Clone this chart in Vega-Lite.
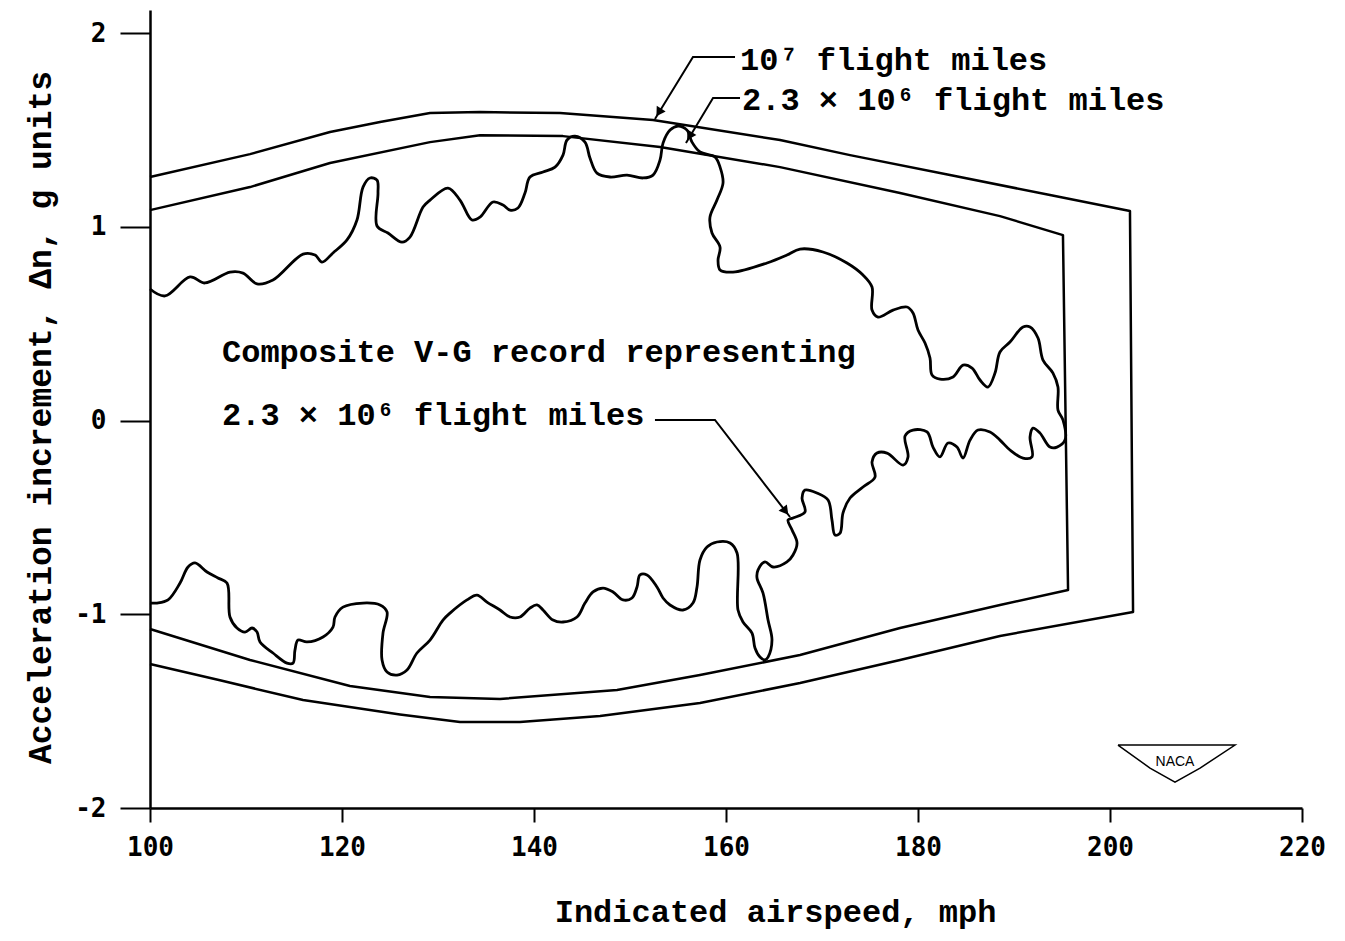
{
  "$schema": "https://vega.github.io/schema/vega-lite/v6.json",
  "width": 1152,
  "height": 798,
  "autosize": {"type": "none"},
  "padding": {"left": 150, "top": 10, "right": 43, "bottom": 133},
  "background": "white",
  "config": {"view": {"stroke": null}},
  "datasets": {
    "envelopes": [
      {"curve": "outer", "i": 1, "speed": 100, "g": 1.257},
      {"curve": "outer", "i": 2, "speed": 110.42, "g": 1.375},
      {"curve": "outer", "i": 3, "speed": 118.75, "g": 1.489},
      {"curve": "outer", "i": 4, "speed": 123.96, "g": 1.541},
      {"curve": "outer", "i": 5, "speed": 129.17, "g": 1.587},
      {"curve": "outer", "i": 6, "speed": 134.38, "g": 1.592},
      {"curve": "outer", "i": 7, "speed": 142.71, "g": 1.587},
      {"curve": "outer", "i": 8, "speed": 152.4, "g": 1.551},
      {"curve": "outer", "i": 9, "speed": 165.63, "g": 1.448},
      {"curve": "outer", "i": 10, "speed": 172.92, "g": 1.37},
      {"curve": "outer", "i": 11, "speed": 183.33, "g": 1.267},
      {"curve": "outer", "i": 12, "speed": 193.75, "g": 1.164},
      {"curve": "outer", "i": 13, "speed": 202.08, "g": 1.081},
      {"curve": "outer", "i": 14, "speed": 202.4, "g": -0.988},
      {"curve": "outer", "i": 15, "speed": 188.54, "g": -1.112},
      {"curve": "outer", "i": 16, "speed": 178.13, "g": -1.236},
      {"curve": "outer", "i": 17, "speed": 167.71, "g": -1.355},
      {"curve": "outer", "i": 18, "speed": 157.29, "g": -1.458},
      {"curve": "outer", "i": 19, "speed": 146.88, "g": -1.525},
      {"curve": "outer", "i": 20, "speed": 138.54, "g": -1.556},
      {"curve": "outer", "i": 21, "speed": 132.29, "g": -1.556},
      {"curve": "outer", "i": 22, "speed": 126.04, "g": -1.517},
      {"curve": "outer", "i": 23, "speed": 115.94, "g": -1.443},
      {"curve": "outer", "i": 24, "speed": 107.29, "g": -1.341},
      {"curve": "outer", "i": 25, "speed": 100, "g": -1.257},
      {"curve": "inner", "i": 1, "speed": 100, "g": 1.086},
      {"curve": "inner", "i": 2, "speed": 110.42, "g": 1.205},
      {"curve": "inner", "i": 3, "speed": 118.75, "g": 1.329},
      {"curve": "inner", "i": 4, "speed": 129.17, "g": 1.437},
      {"curve": "inner", "i": 5, "speed": 134.38, "g": 1.473},
      {"curve": "inner", "i": 6, "speed": 143.02, "g": 1.468},
      {"curve": "inner", "i": 7, "speed": 153.13, "g": 1.412},
      {"curve": "inner", "i": 8, "speed": 165.63, "g": 1.308},
      {"curve": "inner", "i": 9, "speed": 178.13, "g": 1.174},
      {"curve": "inner", "i": 10, "speed": 188.54, "g": 1.055},
      {"curve": "inner", "i": 11, "speed": 195.1, "g": 0.957},
      {"curve": "inner", "i": 12, "speed": 195.63, "g": -0.875},
      {"curve": "inner", "i": 13, "speed": 188.54, "g": -0.952},
      {"curve": "inner", "i": 14, "speed": 178.13, "g": -1.071},
      {"curve": "inner", "i": 15, "speed": 167.71, "g": -1.21},
      {"curve": "inner", "i": 16, "speed": 157.29, "g": -1.314},
      {"curve": "inner", "i": 17, "speed": 148.65, "g": -1.391},
      {"curve": "inner", "i": 18, "speed": 136.46, "g": -1.437},
      {"curve": "inner", "i": 19, "speed": 129.17, "g": -1.427},
      {"curve": "inner", "i": 20, "speed": 120.83, "g": -1.37},
      {"curve": "inner", "i": 21, "speed": 110.42, "g": -1.236},
      {"curve": "inner", "i": 22, "speed": 100, "g": -1.076}
    ],
    "record": [
      {"i": 1, "speed": 100, "g": 0.679},
      {"i": 2, "speed": 101.56, "g": 0.643},
      {"i": 3, "speed": 104.17, "g": 0.741},
      {"i": 4, "speed": 105.73, "g": 0.71},
      {"i": 5, "speed": 108.33, "g": 0.766},
      {"i": 6, "speed": 109.69, "g": 0.761},
      {"i": 7, "speed": 111.15, "g": 0.705},
      {"i": 8, "speed": 112.81, "g": 0.725},
      {"i": 9, "speed": 115.94, "g": 0.859},
      {"i": 10, "speed": 117.19, "g": 0.854},
      {"i": 11, "speed": 117.92, "g": 0.818},
      {"i": 12, "speed": 119.06, "g": 0.865},
      {"i": 13, "speed": 120.52, "g": 0.932},
      {"i": 14, "speed": 121.56, "g": 1.035},
      {"i": 15, "speed": 122.19, "g": 1.205},
      {"i": 16, "speed": 122.92, "g": 1.252},
      {"i": 17, "speed": 123.65, "g": 1.241},
      {"i": 18, "speed": 123.75, "g": 1.174},
      {"i": 19, "speed": 123.65, "g": 1.004},
      {"i": 20, "speed": 124.79, "g": 0.968},
      {"i": 21, "speed": 126.25, "g": 0.921},
      {"i": 22, "speed": 127.08, "g": 0.947},
      {"i": 23, "speed": 128.44, "g": 1.102},
      {"i": 24, "speed": 129.17, "g": 1.138},
      {"i": 25, "speed": 131.04, "g": 1.2},
      {"i": 26, "speed": 132.29, "g": 1.138},
      {"i": 27, "speed": 133.54, "g": 1.035},
      {"i": 28, "speed": 134.38, "g": 1.05},
      {"i": 29, "speed": 135.73, "g": 1.128},
      {"i": 30, "speed": 136.77, "g": 1.112},
      {"i": 31, "speed": 137.5, "g": 1.086},
      {"i": 32, "speed": 138.33, "g": 1.097},
      {"i": 33, "speed": 139.06, "g": 1.174},
      {"i": 34, "speed": 139.58, "g": 1.257},
      {"i": 35, "speed": 140.94, "g": 1.283},
      {"i": 36, "speed": 142.19, "g": 1.308},
      {"i": 37, "speed": 143.02, "g": 1.37},
      {"i": 38, "speed": 143.44, "g": 1.448},
      {"i": 39, "speed": 144.27, "g": 1.468},
      {"i": 40, "speed": 145.31, "g": 1.437},
      {"i": 41, "speed": 145.83, "g": 1.355},
      {"i": 42, "speed": 146.56, "g": 1.277},
      {"i": 43, "speed": 147.92, "g": 1.257},
      {"i": 44, "speed": 149.69, "g": 1.267},
      {"i": 45, "speed": 151.35, "g": 1.252},
      {"i": 46, "speed": 152.4, "g": 1.267},
      {"i": 47, "speed": 153.13, "g": 1.345},
      {"i": 48, "speed": 153.44, "g": 1.432},
      {"i": 49, "speed": 154.17, "g": 1.499},
      {"i": 50, "speed": 155.0, "g": 1.52},
      {"i": 51, "speed": 155.94, "g": 1.499},
      {"i": 52, "speed": 156.46, "g": 1.437},
      {"i": 53, "speed": 157.29, "g": 1.386},
      {"i": 54, "speed": 158.85, "g": 1.36},
      {"i": 55, "speed": 159.38, "g": 1.308},
      {"i": 56, "speed": 159.69, "g": 1.226},
      {"i": 57, "speed": 159.06, "g": 1.138},
      {"i": 58, "speed": 158.33, "g": 1.05},
      {"i": 59, "speed": 158.54, "g": 0.968},
      {"i": 60, "speed": 159.38, "g": 0.895},
      {"i": 61, "speed": 159.17, "g": 0.828},
      {"i": 62, "speed": 159.38, "g": 0.777},
      {"i": 63, "speed": 160.73, "g": 0.766},
      {"i": 64, "speed": 164.27, "g": 0.813},
      {"i": 65, "speed": 166.35, "g": 0.854},
      {"i": 66, "speed": 167.71, "g": 0.885},
      {"i": 67, "speed": 170.1, "g": 0.87},
      {"i": 68, "speed": 172.6, "g": 0.813},
      {"i": 69, "speed": 174.27, "g": 0.751},
      {"i": 70, "speed": 175.21, "g": 0.689},
      {"i": 71, "speed": 175.21, "g": 0.57},
      {"i": 72, "speed": 175.83, "g": 0.534},
      {"i": 73, "speed": 177.4, "g": 0.57},
      {"i": 74, "speed": 178.85, "g": 0.586},
      {"i": 75, "speed": 179.48, "g": 0.555},
      {"i": 76, "speed": 180.0, "g": 0.467},
      {"i": 77, "speed": 180.73, "g": 0.4},
      {"i": 78, "speed": 181.25, "g": 0.323},
      {"i": 79, "speed": 181.46, "g": 0.235},
      {"i": 80, "speed": 182.29, "g": 0.214},
      {"i": 81, "speed": 183.65, "g": 0.225},
      {"i": 82, "speed": 184.69, "g": 0.286},
      {"i": 83, "speed": 185.63, "g": 0.271},
      {"i": 84, "speed": 186.46, "g": 0.209},
      {"i": 85, "speed": 187.29, "g": 0.173},
      {"i": 86, "speed": 188.02, "g": 0.245},
      {"i": 87, "speed": 188.54, "g": 0.354},
      {"i": 88, "speed": 189.58, "g": 0.405},
      {"i": 89, "speed": 190.94, "g": 0.483},
      {"i": 90, "speed": 191.67, "g": 0.483},
      {"i": 91, "speed": 192.5, "g": 0.426},
      {"i": 92, "speed": 193.02, "g": 0.312},
      {"i": 93, "speed": 194.06, "g": 0.245},
      {"i": 94, "speed": 194.58, "g": 0.173},
      {"i": 95, "speed": 194.58, "g": 0.054},
      {"i": 96, "speed": 195.1, "g": 0.003},
      {"i": 97, "speed": 195.31, "g": -0.101},
      {"i": 98, "speed": 194.48, "g": -0.137},
      {"i": 99, "speed": 193.75, "g": -0.137},
      {"i": 100, "speed": 192.71, "g": -0.065},
      {"i": 101, "speed": 191.98, "g": -0.039},
      {"i": 102, "speed": 191.67, "g": -0.085},
      {"i": 103, "speed": 191.88, "g": -0.188},
      {"i": 104, "speed": 190.94, "g": -0.194},
      {"i": 105, "speed": 189.58, "g": -0.152},
      {"i": 106, "speed": 188.54, "g": -0.101},
      {"i": 107, "speed": 187.5, "g": -0.059},
      {"i": 108, "speed": 186.25, "g": -0.049},
      {"i": 109, "speed": 185.42, "g": -0.101},
      {"i": 110, "speed": 184.69, "g": -0.194},
      {"i": 111, "speed": 184.06, "g": -0.137},
      {"i": 112, "speed": 183.13, "g": -0.116},
      {"i": 113, "speed": 182.29, "g": -0.188},
      {"i": 114, "speed": 181.56, "g": -0.137},
      {"i": 115, "speed": 180.94, "g": -0.059},
      {"i": 116, "speed": 179.48, "g": -0.049},
      {"i": 117, "speed": 178.65, "g": -0.08},
      {"i": 118, "speed": 178.96, "g": -0.188},
      {"i": 119, "speed": 178.44, "g": -0.23},
      {"i": 120, "speed": 176.77, "g": -0.168},
      {"i": 121, "speed": 175.73, "g": -0.168},
      {"i": 122, "speed": 175.21, "g": -0.214},
      {"i": 123, "speed": 175.52, "g": -0.292},
      {"i": 124, "speed": 174.27, "g": -0.343},
      {"i": 125, "speed": 172.92, "g": -0.4},
      {"i": 126, "speed": 172.19, "g": -0.477},
      {"i": 127, "speed": 171.88, "g": -0.581},
      {"i": 128, "speed": 171.35, "g": -0.591},
      {"i": 129, "speed": 171.04, "g": -0.514},
      {"i": 130, "speed": 170.63, "g": -0.41},
      {"i": 131, "speed": 169.48, "g": -0.374},
      {"i": 132, "speed": 168.23, "g": -0.359},
      {"i": 133, "speed": 167.92, "g": -0.4},
      {"i": 134, "speed": 168.23, "g": -0.472},
      {"i": 135, "speed": 166.98, "g": -0.503},
      {"i": 136, "speed": 166.46, "g": -0.514},
      {"i": 137, "speed": 166.88, "g": -0.565},
      {"i": 138, "speed": 167.4, "g": -0.632},
      {"i": 139, "speed": 166.98, "g": -0.694},
      {"i": 140, "speed": 166.35, "g": -0.73},
      {"i": 141, "speed": 164.9, "g": -0.756},
      {"i": 142, "speed": 164.06, "g": -0.73},
      {"i": 143, "speed": 163.33, "g": -0.772},
      {"i": 144, "speed": 163.23, "g": -0.813},
      {"i": 145, "speed": 163.85, "g": -0.89},
      {"i": 146, "speed": 164.38, "g": -1.03},
      {"i": 147, "speed": 164.79, "g": -1.133},
      {"i": 148, "speed": 164.38, "g": -1.221},
      {"i": 149, "speed": 164.06, "g": -1.236},
      {"i": 150, "speed": 163.54, "g": -1.221},
      {"i": 151, "speed": 163.02, "g": -1.174},
      {"i": 152, "speed": 162.71, "g": -1.097},
      {"i": 153, "speed": 161.77, "g": -1.04},
      {"i": 154, "speed": 161.25, "g": -0.978},
      {"i": 155, "speed": 161.15, "g": -0.684},
      {"i": 156, "speed": 160.42, "g": -0.632},
      {"i": 157, "speed": 159.06, "g": -0.627},
      {"i": 158, "speed": 158.02, "g": -0.653},
      {"i": 159, "speed": 157.29, "g": -0.72},
      {"i": 160, "speed": 156.98, "g": -0.859},
      {"i": 161, "speed": 156.56, "g": -0.942},
      {"i": 162, "speed": 155.52, "g": -0.978},
      {"i": 163, "speed": 154.17, "g": -0.952},
      {"i": 164, "speed": 153.44, "g": -0.916},
      {"i": 165, "speed": 152.81, "g": -0.859},
      {"i": 166, "speed": 151.77, "g": -0.797},
      {"i": 167, "speed": 151.04, "g": -0.797},
      {"i": 168, "speed": 150.73, "g": -0.859},
      {"i": 169, "speed": 150.21, "g": -0.916},
      {"i": 170, "speed": 149.27, "g": -0.926},
      {"i": 171, "speed": 148.23, "g": -0.885},
      {"i": 172, "speed": 147.19, "g": -0.865},
      {"i": 173, "speed": 146.15, "g": -0.885},
      {"i": 174, "speed": 145.31, "g": -0.942},
      {"i": 175, "speed": 144.48, "g": -1.014},
      {"i": 176, "speed": 143.02, "g": -1.04},
      {"i": 177, "speed": 141.98, "g": -1.03},
      {"i": 178, "speed": 140.94, "g": -0.978},
      {"i": 179, "speed": 140.31, "g": -0.952},
      {"i": 180, "speed": 139.58, "g": -0.968},
      {"i": 181, "speed": 138.54, "g": -1.014},
      {"i": 182, "speed": 137.5, "g": -1.014},
      {"i": 183, "speed": 136.46, "g": -0.978},
      {"i": 184, "speed": 135.1, "g": -0.937},
      {"i": 185, "speed": 134.06, "g": -0.901},
      {"i": 186, "speed": 133.02, "g": -0.926},
      {"i": 187, "speed": 131.25, "g": -0.994},
      {"i": 188, "speed": 130.52, "g": -1.03},
      {"i": 189, "speed": 129.17, "g": -1.133},
      {"i": 190, "speed": 127.81, "g": -1.2},
      {"i": 191, "speed": 126.77, "g": -1.288},
      {"i": 192, "speed": 125.73, "g": -1.314},
      {"i": 193, "speed": 124.69, "g": -1.298},
      {"i": 194, "speed": 124.17, "g": -1.236},
      {"i": 195, "speed": 124.27, "g": -1.097},
      {"i": 196, "speed": 124.69, "g": -0.988},
      {"i": 197, "speed": 123.96, "g": -0.952},
      {"i": 198, "speed": 122.19, "g": -0.942},
      {"i": 199, "speed": 120.1, "g": -0.963},
      {"i": 200, "speed": 119.27, "g": -1.014},
      {"i": 201, "speed": 119.06, "g": -1.066},
      {"i": 202, "speed": 118.02, "g": -1.117},
      {"i": 203, "speed": 116.35, "g": -1.143},
      {"i": 204, "speed": 115.42, "g": -1.133},
      {"i": 205, "speed": 115.1, "g": -1.185},
      {"i": 206, "speed": 114.9, "g": -1.252},
      {"i": 207, "speed": 114.27, "g": -1.252},
      {"i": 208, "speed": 112.81, "g": -1.2},
      {"i": 209, "speed": 111.46, "g": -1.143},
      {"i": 210, "speed": 111.15, "g": -1.092},
      {"i": 211, "speed": 110.63, "g": -1.071},
      {"i": 212, "speed": 109.9, "g": -1.092},
      {"i": 213, "speed": 109.06, "g": -1.071},
      {"i": 214, "speed": 108.33, "g": -1.014},
      {"i": 215, "speed": 108.02, "g": -0.839},
      {"i": 216, "speed": 107.08, "g": -0.813},
      {"i": 217, "speed": 105.94, "g": -0.782},
      {"i": 218, "speed": 104.69, "g": -0.735},
      {"i": 219, "speed": 103.96, "g": -0.756},
      {"i": 220, "speed": 103.13, "g": -0.839},
      {"i": 221, "speed": 101.88, "g": -0.926},
      {"i": 222, "speed": 100.73, "g": -0.942},
      {"i": 223, "speed": 100, "g": -0.942}
    ],
    "leaders": [
      {"arrow": "a1", "i": 1, "speed": 160.94, "g": 1.876},
      {"arrow": "a1", "i": 2, "speed": 156.56, "g": 1.876},
      {"arrow": "a1", "i": 3, "speed": 152.6, "g": 1.556},
      {"arrow": "a2", "i": 1, "speed": 161.46, "g": 1.665},
      {"arrow": "a2", "i": 2, "speed": 158.65, "g": 1.665},
      {"arrow": "a2", "i": 3, "speed": 155.83, "g": 1.432},
      {"arrow": "a3", "i": 1, "speed": 152.6, "g": 0.003},
      {"arrow": "a3", "i": 2, "speed": 158.85, "g": 0.003},
      {"arrow": "a3", "i": 3, "speed": 166.67, "g": -0.498}
    ],
    "heads": [
      {"arrow": "a1", "speed": 153.0, "g": 1.59},
      {"arrow": "a2", "speed": 156.2, "g": 1.468},
      {"arrow": "a3", "speed": 166.2, "g": -0.468}
    ],
    "labels": [
      {"label": "10⁷ flight miles", "speed": 161.46, "g": 1.861},
      {"label": "2.3 × 10⁶ flight miles", "speed": 161.67, "g": 1.654},
      {"label": "Composite V-G record representing", "speed": 107.5, "g": 0.354},
      {"label": "2.3 × 10⁶ flight miles", "speed": 107.5, "g": 0.028}
    ],
    "logo": [
      {"i": 1, "speed": 200.83, "g": -1.675},
      {"i": 2, "speed": 213.02, "g": -1.675},
      {"i": 3, "speed": 209.38, "g": -1.794},
      {"i": 4, "speed": 206.77, "g": -1.866},
      {"i": 5, "speed": 204.17, "g": -1.794},
      {"i": 6, "speed": 200.83, "g": -1.675}
    ],
    "logotext": [
      {"label": "NACA", "speed": 206.77, "g": -1.76}
    ]
  },
  "encoding": {
    "x": {
      "field": "speed",
      "type": "quantitative",
      "scale": {"domain": [100, 220], "nice": false, "zero": false},
      "axis": {
        "values": [100, 120, 140, 160, 180, 200, 220],
        "title": "Indicated airspeed, mph",
        "grid": false,
        "domainColor": "black",
        "domainWidth": 2.5,
        "tickColor": "black",
        "tickWidth": 2,
        "tickSize": 14,
        "labelPadding": 12,
        "labelFont": "DejaVu Sans Mono",
        "labelFontSize": 26,
        "labelFontWeight": "bold",
        "labelColor": "black",
        "labelFlush": false,
        "labelOverlap": false,
        "titleFont": "Liberation Mono",
        "titleFontSize": 32,
        "titleFontWeight": "bold",
        "titleColor": "black",
        "titleX": 625,
        "titleY": 113,
        "titleAlign": "center",
        "titleBaseline": "alphabetic"
      }
    },
    "y": {
      "field": "g",
      "type": "quantitative",
      "scale": {"domain": [-2, 2.119], "nice": false, "zero": false},
      "axis": {
        "values": [-2, -1, 0, 1, 2],
        "labelExpr": "'' + datum.value",
        "title": "Acceleration increment, Δn, g units",
        "grid": false,
        "domainColor": "black",
        "domainWidth": 2.5,
        "tickColor": "black",
        "tickWidth": 2,
        "tickSize": 30,
        "labelPadding": 14,
        "labelFont": "DejaVu Sans Mono",
        "labelFontSize": 26,
        "labelFontWeight": "bold",
        "labelColor": "black",
        "labelFlush": false,
        "labelOverlap": false,
        "titleFont": "Liberation Mono",
        "titleFontSize": 33,
        "titleFontWeight": "bold",
        "titleColor": "black",
        "titleAngle": 270,
        "titleX": -110,
        "titleY": 407,
        "titleAlign": "center",
        "titleBaseline": "middle"
      }
    }
  },
  "layer": [
    {
      "data": {"name": "envelopes"},
      "mark": {"type": "line", "color": "black", "strokeWidth": 2.5, "interpolate": "linear", "strokeJoin": "round"},
      "encoding": {"detail": {"field": "curve"}, "order": {"field": "i", "type": "quantitative"}}
    },
    {
      "data": {"name": "record"},
      "mark": {"type": "line", "color": "black", "strokeWidth": 2.8, "interpolate": "catmull-rom", "strokeJoin": "round"},
      "encoding": {"order": {"field": "i", "type": "quantitative"}}
    },
    {
      "data": {"name": "leaders"},
      "mark": {"type": "line", "color": "black", "strokeWidth": 2, "interpolate": "linear"},
      "encoding": {"detail": {"field": "arrow"}, "order": {"field": "i", "type": "quantitative"}}
    },
    {
      "data": {"name": "heads"},
      "transform": [{"filter": "datum.arrow !== 'a3'"}],
      "mark": {"type": "point", "shape": "triangle-up", "angle": 212, "filled": true, "color": "black", "opacity": 1, "size": 110}
    },
    {
      "data": {"name": "heads"},
      "transform": [{"filter": "datum.arrow === 'a3'"}],
      "mark": {"type": "point", "shape": "triangle-up", "angle": 142, "filled": true, "color": "black", "opacity": 1, "size": 110}
    },
    {
      "data": {"name": "labels"},
      "mark": {"type": "text", "align": "left", "baseline": "middle", "font": "Liberation Mono", "fontSize": 32, "fontWeight": "bold", "color": "black"},
      "encoding": {"text": {"field": "label"}}
    },
    {
      "data": {"name": "logo"},
      "mark": {"type": "line", "color": "black", "strokeWidth": 1.5, "interpolate": "linear"},
      "encoding": {"order": {"field": "i", "type": "quantitative"}}
    },
    {
      "data": {"name": "logotext"},
      "mark": {"type": "text", "align": "center", "baseline": "middle", "font": "Liberation Sans", "fontSize": 14, "color": "black"},
      "encoding": {"text": {"field": "label"}}
    }
  ]
}
